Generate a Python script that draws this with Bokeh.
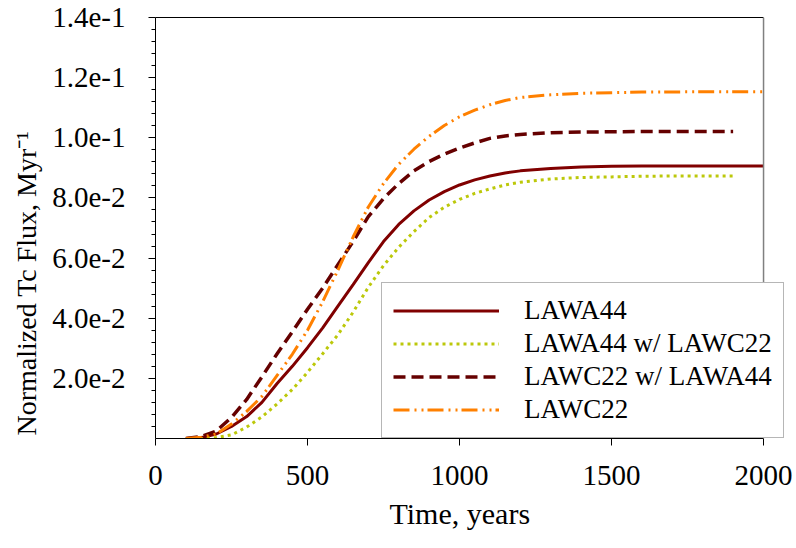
from bokeh.plotting import figure
from bokeh.models import (Range1d, FixedTicker, LinearAxis, Legend, LegendItem,
                          Title, Span)
from bokeh.embed import file_html
from bokeh.resources import INLINE

# ---------------- data ----------------
t_lawa44 = [100, 150, 200, 250, 300, 350, 400, 450, 500, 550, 600, 650, 700,
            750, 800, 850, 900, 950, 1000, 1050, 1100, 1150, 1200, 1300, 1400,
            1500, 1600, 1800, 2000]
v_lawa44 = [0.0, 0.0003, 0.0015, 0.0040, 0.0073, 0.0120, 0.0183, 0.0240,
            0.0302, 0.0368, 0.0440, 0.0512, 0.0585, 0.0655, 0.0712, 0.0757,
            0.0793, 0.0821, 0.0843, 0.0860, 0.0873, 0.0883, 0.0890, 0.0898,
            0.0903, 0.0905, 0.0906, 0.0906, 0.0906]

t_lawa44_c22 = [100, 150, 200, 250, 300, 350, 400, 450, 500, 550, 600, 650,
                700, 750, 800, 850, 900, 950, 1000, 1050, 1100, 1150, 1200,
                1300, 1400, 1500, 1600, 1700, 1900]
v_lawa44_c22 = [0.0, 0.0, 0.0003, 0.0012, 0.0038, 0.0072, 0.0115, 0.0163,
                0.0220, 0.0282, 0.0345, 0.0420, 0.0503, 0.0575, 0.0636,
                0.0688, 0.0735, 0.0769, 0.0795, 0.0815, 0.0830, 0.0843,
                0.0852, 0.0863, 0.0868, 0.0870, 0.0872, 0.0873, 0.0873]

t_lawc22_a44 = [100, 150, 200, 250, 300, 350, 400, 450, 500, 550, 600, 650,
                700, 750, 800, 850, 900, 950, 1000, 1050, 1100, 1150, 1200,
                1300, 1400, 1500, 1600, 1900]
v_lawc22_a44 = [0.0, 0.0006, 0.0025, 0.0070, 0.0130, 0.0205, 0.0282, 0.0355,
                0.0430, 0.0500, 0.0578, 0.0655, 0.0738, 0.0798, 0.0848,
                0.0890, 0.0921, 0.0946, 0.0966, 0.0983, 0.0998, 0.1006,
                0.1011, 0.1017, 0.1019, 0.1020, 0.1021, 0.1021]

t_lawc22 = [100, 150, 200, 250, 300, 350, 400, 450, 500, 550, 600, 650, 700,
            750, 800, 850, 900, 950, 1000, 1050, 1100, 1150, 1200, 1300, 1400,
            1500, 1600, 1800, 2000]
v_lawc22 = [0.0, 0.0004, 0.0015, 0.0048, 0.0090, 0.0140, 0.0210, 0.0280,
            0.0360, 0.0455, 0.0560, 0.0670, 0.0770, 0.0848, 0.0912, 0.0962,
            0.1005, 0.1041, 0.1070, 0.1092, 0.1110, 0.1124, 0.1134, 0.1143,
            0.1148, 0.1150, 0.1152, 0.1153, 0.1153]

series_labels = ["LAWA44", "LAWA44 w/ LAWC22", "LAWC22 w/ LAWA44", "LAWC22"]

x_ticks = [0, 500, 1000, 1500, 2000]
y_ticks = [0.02, 0.04, 0.06, 0.08, 0.10, 0.12, 0.14]
y_tick_labels = ["2.0e-2", "4.0e-2", "6.0e-2", "8.0e-2", "1.0e-1", "1.2e-1", "1.4e-1"]
y_minor = [round(0.004 * k, 3) for k in range(1, 35) if k % 5 != 0]

x_title = "Time, years"
y_title = "Normalized Tc Flux, Myr\u207b\u00b9"

FONT = "Liberation Serif"
TICK_FS = "29px"
LEG_FS = "27px"

# layout: axis box spans 154..763 px, legend may overhang to 789 px
X_END = x_ticks[-1]
X_VIEW_END = X_END * (789 - 154) / (763 - 154)

p = figure(width=796, height=548, output_backend="svg", toolbar_location=None,
           x_range=Range1d(0, X_VIEW_END), y_range=Range1d(0, 0.14),
           min_border_left=154, min_border_right=7, min_border_top=17,
           min_border_bottom=110)
p.outline_line_color = None
p.grid.visible = False
p.background_fill_color = "white"
p.border_fill_color = "white"

# lines
r1 = p.line(t_lawa44, v_lawa44, line_color="#800000", line_width=3)
r2 = p.line(t_lawa44_c22, v_lawa44_c22, line_color="#BCC80A", line_width=3,
            line_dash="3 4")
r3 = p.line(t_lawc22_a44, v_lawc22_a44, line_color="#650000", line_width=3.5,
            line_dash="12 6")
r4 = p.line(t_lawc22, v_lawc22, line_color="#FF8000", line_width=3,
            line_dash="16 5 2 5 2 4")

# axes
xa = p.xaxis[0]
xa.ticker = FixedTicker(ticks=x_ticks, minor_ticks=[])
xa.bounds = (0, X_END)
ya = p.yaxis[0]
ya.ticker = FixedTicker(ticks=y_ticks, minor_ticks=y_minor)
ya.major_label_overrides = dict(zip(y_ticks, y_tick_labels))

for ax in (xa, ya):
    ax.axis_line_color = "black"
    ax.axis_line_width = 1
    ax.major_tick_line_color = "black"
    ax.minor_tick_line_color = "black"
    ax.major_tick_in = 0
    ax.major_tick_out = 7
    ax.minor_tick_in = 0
    ax.minor_tick_out = 4
    ax.major_label_text_font = FONT
    ax.major_label_text_font_size = TICK_FS
    ax.major_label_text_color = "black"

xa.major_label_standoff = 20
ya.major_label_standoff = 23

# x title, centred under the 0..2000 axis (not the wider frame)
xtitle = Title(text=x_title, align="left", offset=234, standoff=14,
               text_font=FONT, text_font_size="30px", text_font_style="normal",
               text_color="black")
p.add_layout(xtitle, "below")

# y title as a left-side title, starting near the bottom like the reference
ytitle = Title(text=y_title, align="left", offset=3, standoff=16,
               text_font=FONT, text_font_size="28px", text_font_style="normal",
               text_color="black")
p.add_layout(ytitle, "left")

# top frame line (black) and right frame line (grey) ending at x = 2000
top = LinearAxis(ticker=FixedTicker(ticks=[]), axis_line_color="black",
                 major_label_text_font_size="0px", bounds=(0, X_END))
p.add_layout(top, "above")
right_edge = Span(location=X_END, dimension="height", line_color="#808080",
                  line_width=1.5)
p.add_layout(right_edge)

legend = Legend(items=[LegendItem(label=series_labels[i], renderers=[r])
                       for i, r in enumerate([r1, r2, r3, r4])],
                location=(226, 0))
legend.padding = 11
legend.spacing = 0
legend.margin = 0
legend.glyph_width = 106
legend.glyph_height = 33
legend.label_height = 33
legend.label_standoff = 25
legend.border_line_color = "#6e6e6e"
legend.border_line_width = 1
legend.background_fill_color = "white"
legend.background_fill_alpha = 1
legend.label_text_font = FONT
legend.label_text_font_size = LEG_FS
legend.label_text_color = "black"
p.add_layout(legend, "center")

open("out.html", "w").write(file_html(p, INLINE))
